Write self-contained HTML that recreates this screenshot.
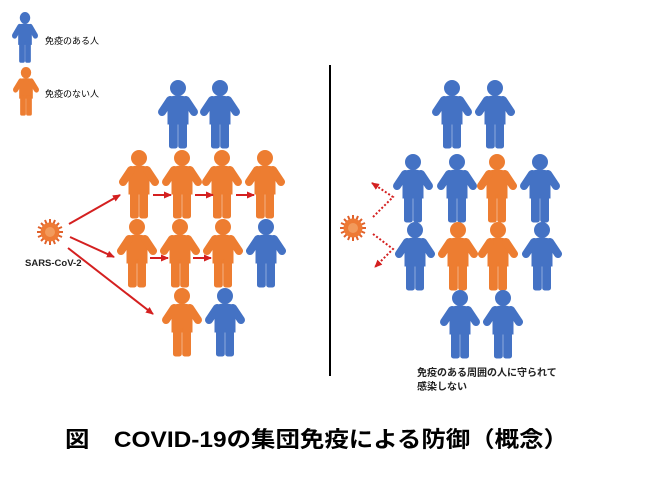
<!DOCTYPE html>
<html><head><meta charset="utf-8"><style>
html,body{margin:0;padding:0;background:#fff;}
svg{display:block;}
text{font-family:"Liberation Sans","Noto Sans CJK JP",sans-serif;}
</style></head><body>
<svg width="660" height="495" viewBox="0 0 660 495" xmlns="http://www.w3.org/2000/svg">
<defs>
<g id="p">
<circle cx="20" cy="8" r="7.5"/>
<path d="M10,18 Q20,14 30,18 L30,44 L10,44 Z"/>
<path d="M12,20 L4,32 M28,20 L36,32" stroke-width="8" stroke-linecap="round" fill="none"/>
<rect x="11.5" y="40" width="7.8" height="28" rx="2"/>
<rect x="20.7" y="40" width="7.8" height="28" rx="2"/>
</g>
<g id="b"><use href="#p" fill="#4472C4" stroke="#4472C4"/></g>
<g id="o"><use href="#p" fill="#ED7D31" stroke="#ED7D31"/></g>
<g id="v">
<g stroke="#E0602A" stroke-width="2">
<line x1="-13" y1="0" x2="13" y2="0"/><line x1="0" y1="-13" x2="0" y2="13"/>
<line x1="-9" y1="-9" x2="9" y2="9"/><line x1="-9" y1="9" x2="9" y2="-9"/>
<line x1="-12" y1="-5" x2="12" y2="5"/><line x1="-12" y1="5" x2="12" y2="-5"/>
<line x1="-5" y1="-12" x2="5" y2="12"/><line x1="5" y1="-12" x2="-5" y2="12"/>
</g>
<circle r="9.5" fill="#EE7A35"/>
<circle r="5" fill="#F29A5C"/>
</g>
<marker id="ah" markerUnits="userSpaceOnUse" markerWidth="8" markerHeight="8" refX="7" refY="4" orient="auto"><path d="M0,0.5 L8,4 L0,7.5 Z" fill="#D42020"/></marker>
</defs>

<!-- legend -->
<use href="#b" transform="translate(12,12) scale(0.65,0.74)"/>
<text x="45" y="44" font-size="9" fill="#000">免疫のある人</text>
<use href="#o" transform="translate(13,67) scale(0.65,0.71)"/>
<text x="45" y="97" font-size="9" fill="#000">免疫のない人</text>

<!-- left group -->
<use href="#b" transform="translate(158,80)"/>
<use href="#b" transform="translate(200,80)"/>
<use href="#o" transform="translate(119,150)"/>
<use href="#o" transform="translate(162,150)"/>
<use href="#o" transform="translate(202,150)"/>
<use href="#o" transform="translate(245,150)"/>
<use href="#o" transform="translate(117,219)"/>
<use href="#o" transform="translate(160,219)"/>
<use href="#o" transform="translate(203,219)"/>
<use href="#b" transform="translate(246,219)"/>
<use href="#o" transform="translate(162,288)"/>
<use href="#b" transform="translate(205,288)"/>

<use href="#v" transform="translate(50,232)"/>
<text x="25" y="266" font-size="9.5" font-weight="bold" fill="#222">SARS-CoV-2</text>

<g stroke="#D42020" stroke-width="2" marker-end="url(#ah)">
<line x1="69" y1="224" x2="120" y2="195"/>
<line x1="70" y1="237" x2="114" y2="257"/>
<line x1="68" y1="248" x2="153" y2="314"/>
<line x1="153" y1="195" x2="171" y2="195"/>
<line x1="195" y1="195" x2="213" y2="195"/>
<line x1="236" y1="195" x2="254" y2="195"/>
<line x1="150" y1="258" x2="168" y2="258"/>
<line x1="193" y1="258" x2="211" y2="258"/>
</g>

<line x1="330" y1="65" x2="330" y2="376" stroke="#000" stroke-width="2"/>

<!-- right group -->
<use href="#b" transform="translate(432,80)"/>
<use href="#b" transform="translate(475,80)"/>
<use href="#b" transform="translate(393,154)"/>
<use href="#b" transform="translate(437,154)"/>
<use href="#o" transform="translate(477,154)"/>
<use href="#b" transform="translate(520,154)"/>
<use href="#b" transform="translate(395,222)"/>
<use href="#o" transform="translate(438,222)"/>
<use href="#o" transform="translate(478,222)"/>
<use href="#b" transform="translate(522,222)"/>
<use href="#b" transform="translate(440,290)"/>
<use href="#b" transform="translate(483,290)"/>

<use href="#v" transform="translate(353,228)"/>
<g stroke="#D42020" stroke-width="2" stroke-dasharray="2,2" fill="none" marker-end="url(#ah)">
<polyline points="373,217 393,197 372,183"/>
<polyline points="373,234 393,249 375,267"/>
</g>

<text x="417" y="376" font-size="10" font-weight="bold" fill="#222">免疫のある周囲の人に守られて</text>
<text x="417" y="390" font-size="10" font-weight="bold" fill="#222">感染しない</text>

<text x="65" y="447" font-size="22" font-weight="bold" fill="#000" textLength="503" lengthAdjust="spacingAndGlyphs">図　COVID-19の集団免疫による防御（概念）</text>
</svg>
</body></html>
